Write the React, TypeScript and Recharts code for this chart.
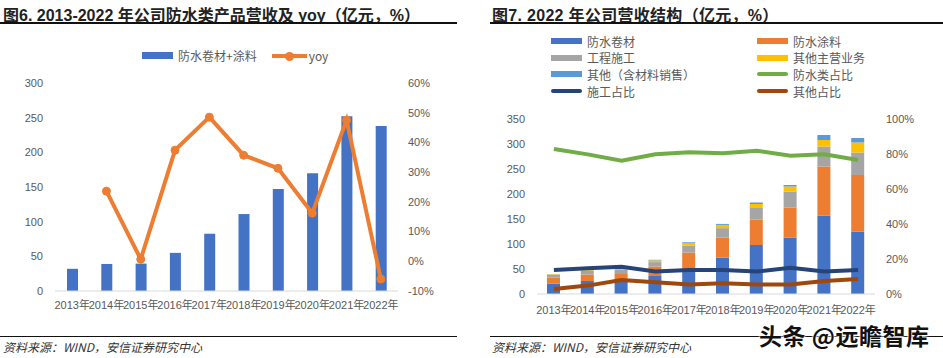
import React from "react";
import {
  ComposedChart,
  Bar,
  Line,
  XAxis,
  YAxis,
} from "recharts";

// 图6 数据
const years = ["2013年", "2014年", "2015年", "2016年", "2017年", "2018年", "2019年", "2020年", "2021年", "2022年"];
const revenue = [32, 39, 39.5, 55, 82.6, 111, 147, 170, 252, 238];
const yoy = [null, 23.6, 0.7, 37.4, 48.5, 35.7, 31.3, 16.2, 47.5, -6];

// 图7 数据
const membrane = [21, 26, 27, 36, 47, 72.7, 98, 113, 157, 125];
const coating = [12, 13, 13, 19, 36, 40, 51, 60, 98, 113];
const construction = [5.5, 7.2, 8.2, 8.8, 14, 19, 23, 32, 40, 45];
const otherMain = [1, 1.5, 3, 3.4, 5, 6.5, 8, 10, 13, 20];
const otherSales = [0.3, 1, 1.2, 1.2, 1.5, 2, 3, 3, 10, 9];
const waterproofShare = [82.9, 79.8, 76.2, 79.8, 81, 80.4, 81.9, 79, 79.8, 76.6];
const constructionShare = [13.7, 14.7, 15.6, 12.8, 13.7, 13.7, 12.8, 15, 12.8, 13.7];
const otherShare = [2.9, 4.8, 8, 6.7, 5.5, 6.1, 5.5, 5.5, 7.4, 8.6];

const leftTicks = [0, 50, 100, 150, 200, 250, 300];
const yoyTicks = [-10, 0, 10, 20, 30, 40, 50, 60];
const rightTicks = [0, 50, 100, 150, 200, 250, 300, 350];
const shareTicks = [0, 20, 40, 60, 80, 100];

const FONT = '"Liberation Sans", "Noto Sans CJK SC", sans-serif';
const CJK = '"Noto Sans CJK SC", sans-serif';
const TICK = { fill: "#595959", fontSize: 11, fontFamily: FONT };

const fig6 = years.map((y, i) => ({ year: y, revenue: revenue[i], yoy: yoy[i] }));
const fig7 = years.map((y, i) => ({
  year: y,
  membrane: membrane[i],
  coating: coating[i],
  construction: construction[i],
  otherMain: otherMain[i],
  otherSales: otherSales[i],
  waterproofShare: waterproofShare[i],
  constructionShare: constructionShare[i],
  otherShare: otherShare[i],
}));

const legend7 = [
  { name: "防水卷材", color: "#4472C4", line: false },
  { name: "防水涂料", color: "#ED7D31", line: false },
  { name: "工程施工", color: "#A5A5A5", line: false },
  { name: "其他主营业务", color: "#FFC000", line: false },
  { name: "其他（含材料销售）", color: "#5B9BD5", line: false },
  { name: "防水类占比", color: "#70AD47", line: true },
  { name: "施工占比", color: "#264478", line: true },
  { name: "其他占比", color: "#9E480E", line: true },
];

const abs = (left: number, top: number): React.CSSProperties => ({ position: "absolute", left, top });

function Swatch({ color, line }: { color: string; line: boolean }) {
  return (
    <div
      style={{
        width: 31,
        height: line ? 4 : 6,
        borderRadius: line ? 2 : 0,
        background: color,
        marginRight: 5,
      }}
    />
  );
}

export default function App() {
  return (
    <div style={{ position: "absolute", left: 0, top: 0, width: 943, height: 358, background: "#fff", overflow: "hidden", fontFamily: FONT }}>
      {/* 标题 */}
      <div style={{ ...abs(3, 2), fontSize: 16, fontWeight: 700, color: "#222", fontFamily: FONT, whiteSpace: "nowrap" }}>
        图6. 2013-2022 年公司防水类产品营收及 yoy（亿元，%）
      </div>
      <div style={{ ...abs(0, 22), width: 457, height: 2, background: "#111" }} />
      <div style={{ ...abs(492, 2), fontSize: 16, fontWeight: 700, color: "#222", fontFamily: FONT, whiteSpace: "nowrap", letterSpacing: 0.3 }}>
        图7. 2022 年公司营收结构（亿元，%）
      </div>
      <div style={{ ...abs(490, 22), width: 453, height: 2, background: "#111" }} />

      {/* 图6 */}
      <ComposedChart width={470} height={320} data={fig6} margin={{ top: 83, right: 37, bottom: 7, left: 0 }} style={abs(0, 0)}>
        <XAxis dataKey="year" interval={0} tick={TICK} tickLine={false} tickSize={0} tickMargin={10} axisLine={{ stroke: "#D9D9D9" }} height={22} />
        <YAxis yAxisId="l" domain={[0, 300]} ticks={leftTicks} tick={TICK} axisLine={false} tickLine={false} tickSize={0} tickMargin={12} width={55} />
        <YAxis yAxisId="r" orientation="right" domain={[-10, 60]} ticks={yoyTicks} tickFormatter={(v) => `${v}%`} tick={TICK} axisLine={false} tickLine={false} tickSize={0} tickMargin={10} width={35} />
        <Bar yAxisId="l" dataKey="revenue" fill="#4472C4" barSize={11} isAnimationActive={false} />
        <Line yAxisId="r" dataKey="yoy" stroke="#ED7D31" strokeWidth={4} dot={{ r: 4, fill: "#ED7D31", stroke: "#ED7D31", strokeWidth: 1 }} isAnimationActive={false} />
      </ComposedChart>
      <div style={{ ...abs(142, 47), display: "flex", alignItems: "center", fontSize: 12, color: "#595959", fontFamily: CJK, whiteSpace: "nowrap" }}>
        <div style={{ width: 31, height: 7, background: "#4472C4", marginRight: 5 }} />
        <span style={{ marginRight: 15 }}>防水卷材+涂料</span>
        <div style={{ position: "relative", width: 35, height: 10, marginRight: 2 }}>
          <div style={{ position: "absolute", left: 0, top: 3, width: 35, height: 4, background: "#ED7D31" }} />
          <div style={{ position: "absolute", left: 13, top: 1, width: 9, height: 9, borderRadius: 5, background: "#ED7D31" }} />
        </div>
        <span>yoy</span>
      </div>

      {/* 图7 */}
      <ComposedChart width={473} height={320} data={fig7} margin={{ top: 119, right: 28, bottom: 4, left: 0 }} style={abs(470, 0)}>
        <XAxis dataKey="year" interval={0} tick={TICK} tickLine={false} tickSize={0} tickMargin={12} axisLine={{ stroke: "#D9D9D9" }} height={22} />
        <YAxis yAxisId="l" domain={[0, 350]} ticks={rightTicks} tick={TICK} axisLine={false} tickLine={false} tickSize={0} tickMargin={12} width={67} />
        <YAxis yAxisId="r" orientation="right" domain={[0, 100]} ticks={shareTicks} tickFormatter={(v) => `${v}%`} tick={TICK} axisLine={false} tickLine={false} tickSize={0} tickMargin={11} width={40} />
        <Bar yAxisId="l" dataKey="membrane" stackId="s" fill="#4472C4" barSize={13} isAnimationActive={false} />
        <Bar yAxisId="l" dataKey="coating" stackId="s" fill="#ED7D31" barSize={13} isAnimationActive={false} />
        <Bar yAxisId="l" dataKey="construction" stackId="s" fill="#A5A5A5" barSize={13} isAnimationActive={false} />
        <Bar yAxisId="l" dataKey="otherMain" stackId="s" fill="#FFC000" barSize={13} isAnimationActive={false} />
        <Bar yAxisId="l" dataKey="otherSales" stackId="s" fill="#5B9BD5" barSize={13} isAnimationActive={false} />
        <Line yAxisId="r" dataKey="waterproofShare" stroke="#70AD47" strokeWidth={4} dot={false} isAnimationActive={false} />
        <Line yAxisId="r" dataKey="constructionShare" stroke="#264478" strokeWidth={4} dot={false} isAnimationActive={false} />
        <Line yAxisId="r" dataKey="otherShare" stroke="#9E480E" strokeWidth={4} dot={false} isAnimationActive={false} />
      </ComposedChart>
      {legend7.map((item, i) => (
        <div
          key={item.name}
          style={{
            ...abs(i % 2 === 0 ? 551 : 757, 33 + Math.floor(i / 2) * 16.7),
            display: "flex",
            alignItems: "center",
            height: 16,
            fontSize: 12,
            color: "#595959",
            fontFamily: CJK,
            whiteSpace: "nowrap",
          }}
        >
          <Swatch color={item.color} line={item.line} />
          <span>{item.name}</span>
        </div>
      ))}

      {/* 来源 */}
      <div style={{ ...abs(0, 336), width: 457, height: 1, background: "#111" }} />
      <div style={{ ...abs(3, 338), fontSize: 12, fontStyle: "italic", color: "#333", fontFamily: CJK, whiteSpace: "nowrap" }}>
        资料来源：WIND，安信证券研究中心
      </div>
      <div style={{ ...abs(490, 336), width: 453, height: 1, background: "#111" }} />
      <div style={{ ...abs(492, 338), fontSize: 12, fontStyle: "italic", color: "#333", fontFamily: CJK, whiteSpace: "nowrap" }}>
        资料来源：WIND，安信证券研究中心
      </div>
      <div
        style={{
          ...abs(759, 318),
          fontSize: 23,
          fontWeight: 700,
          color: "#111",
          fontFamily: CJK,
          whiteSpace: "nowrap",
          letterSpacing: 0.5,
          textShadow: "0 0 2px #fff, 0 0 2px #fff, 0 0 3px #fff",
        }}
      >
        头条 @远瞻智库
      </div>
    </div>
  );
}
